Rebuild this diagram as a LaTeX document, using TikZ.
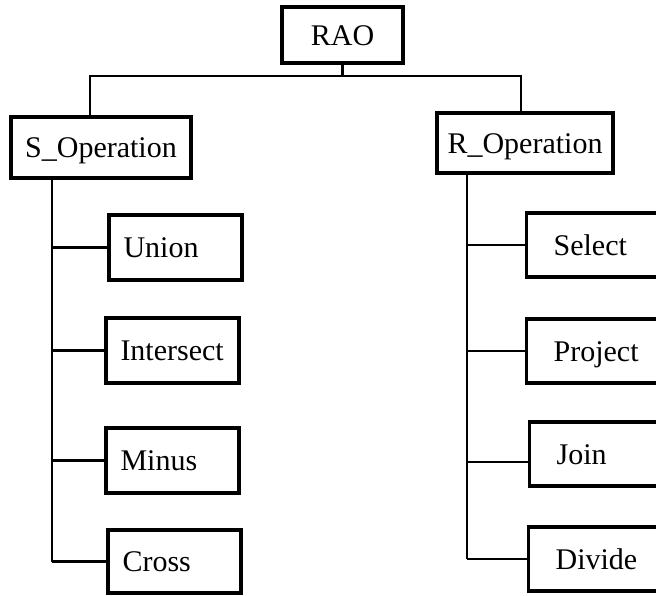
\documentclass[tikz,border=0pt]{standalone}
\usepackage{fontspec}
\setmainfont{Liberation Serif}
\usetikzlibrary{calc}
\begin{document}
\begin{tikzpicture}[x=0.5pt, y=-0.5pt,
  box/.style={draw, line width=1.6pt, inner sep=0pt,
    font=\fontsize{15pt}{18pt}\selectfont, text height=10pt, text depth=0pt},
  topbox/.style={box, align=center},
  leaf/.style={box, minimum width=66.5pt, minimum height=32.5pt,
    text width=52pt, align=left, inner xsep=7pt},
  rleaf/.style={box, anchor=west, minimum width=80pt, minimum height=32pt,
    text width=53pt, align=left, inner xsep=13.5pt},
  link/.style={line width=1.4pt}]
\useasboundingbox (0,0) rectangle (656,595);
\clip (0,0) rectangle (656,595);

% root and the two operation groups
\node[topbox, minimum width=60.5pt, minimum height=28pt] (rao) at (342.5,35) {RAO};
\node[topbox, minimum width=90pt, minimum height=30.5pt] (sop) at (101,147.5) {S\_Operation};
\node[topbox, minimum width=88pt, minimum height=30pt] (rop) at (525,143) {R\_Operation};

% set operations
\node[leaf] (union) at (175.5,247.5) {Union};
\node[leaf] (inter) at (172.5,350.5) {Intersect};
\node[leaf] (minus) at (172.5,460.5) {Minus};
\node[leaf, minimum height=31.5pt] (cross) at (174.5,561.5) {Cross};

% relational operations
\node[rleaf] (select) at (525,245) {Select};
\node[rleaf] (project) at (525,351) {Project};
\node[rleaf] (join) at (528,454) {Join};
\node[rleaf] (divide) at (527,559) {Divide};

% bus from the root to both groups
\coordinate (busL) at (90,76);
\coordinate (busR) at (521,76);
\draw[link] (rao.south) -- (rao.south |- busL);
\draw[link] (sop.north -| busL) -- (busL) -- (busR) -- (rop.north -| busR);

% trunk of the set operations
\coordinate (trunkS) at (52,0);
\draw[link] (sop.south -| trunkS) -- (cross.west -| trunkS);
\foreach \n in {union,inter,minus,cross}
  \draw[link] (\n.west -| trunkS) -- (\n.west);

% trunk of the relational operations
\coordinate (trunkR) at (467,0);
\coordinate (joinIn) at ($(join.west)+(0,8)$);
\draw[link] (rop.south -| trunkR) -- (divide.west -| trunkR);
\foreach \n in {select,project,divide}
  \draw[link] (\n.west -| trunkR) -- (\n.west);
\draw[link] (joinIn -| trunkR) -- (joinIn);
\end{tikzpicture}
\end{document}
